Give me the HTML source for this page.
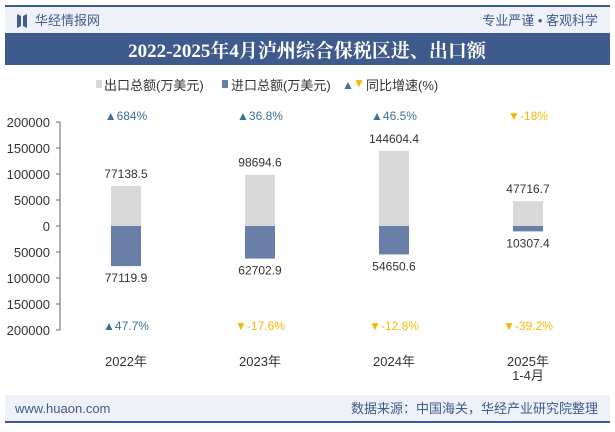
<!DOCTYPE html>
<html><head><meta charset="utf-8"><style>
body{margin:0;width:615px;height:427px;overflow:hidden;background:#fff;font-family:"Liberation Sans","Noto Sans CJK SC",sans-serif;}
</style></head><body>
<svg width="615" height="427" xmlns="http://www.w3.org/2000/svg">
<rect x="5" y="5" width="605" height="28" fill="#eef1f7"/>
<rect x="5" y="5" width="605" height="2" fill="#3f5a8c"/>
<path d="M17 14 L21 16 L21 26 L17 28 Z M23 16 L27 14 L27 28 L23 26 Z" fill="#3f5a8c"/>
<text x="35" y="25" font-size="13" fill="#3f5a8c">华经情报网</text>
<text x="598" y="25" font-size="13" fill="#3f5a8c" text-anchor="end">专业严谨 • 客观科学</text>
<rect x="5" y="33" width="605" height="32" fill="#3f5a8c"/>
<text x="307" y="57" font-size="19" font-weight="bold" fill="#fff" text-anchor="middle" font-family="Liberation Serif,Noto Serif CJK SC,serif">2022-2025年4月泸州综合保税区进、出口额</text>
<g font-size="13" fill="#333">
<rect x="96" y="80" width="6" height="8" fill="#d9d9d9"/>
<text x="104" y="90">出口总额(万美元)</text>
<rect x="222" y="80" width="6" height="8" fill="#6a7fa8"/>
<text x="231" y="90">进口总额(万美元)</text>
<text x="342" y="89" font-size="12" fill="#3d7196">▲</text>
<text x="353" y="87" font-size="12" fill="#f5b800">▼</text>
<text x="366" y="90">同比增速(%)</text>
</g>
<g id="plot"></g>
<rect x="5" y="395" width="605" height="27" fill="#eef1f7"/>
<rect x="5" y="421" width="605" height="2" fill="#3f5a8c"/>
<text x="15" y="413" font-size="13" fill="#3f5a8c">www.huaon.com</text>
<text x="598" y="413" font-size="13" fill="#3f5a8c" text-anchor="end">数据来源：中国海关，华经产业研究院整理</text>
</svg>
<script>
const categories=["2022年","2023年","2024年","2025年|1-4月"];
const exportVals=[77138.5,98694.6,144604.4,47716.7];
const importVals=[77119.9,62702.9,54650.6,10307.4];
const exportGrowth=[684,36.8,46.5,-18];
const importGrowth=[47.7,-17.6,-12.8,-39.2];
const yTicks=[200000,150000,100000,50000,0,50000,100000,150000,200000];
const ns="http://www.w3.org/2000/svg";
const g=document.getElementById("plot");
const y0=226,scale=208/400000;
const yPos=v=>y0-v*scale;
const xPos=i=>126+i*134;
function el(t,a,txt){const e=document.createElementNS(ns,t);for(const k in a)e.setAttribute(k,a[k]);if(txt!==undefined)e.textContent=txt;g.appendChild(e);return e;}
let ax=el("line",{x1:60,x2:60,y1:yPos(200000),y2:yPos(-200000),stroke:"#666"});


yTicks.forEach((t,i)=>{const v=200000-i*50000;const y=yPos(v);
let tk=el("line",{x1:56,x2:60,y1:y,y2:y,stroke:"#666"});


let tl=el("text",{x:50,y:y+5,"font-size":13,fill:"#333","text-anchor":"end"},String(t));

});
function fmt(v){return (v>0?"▲":"▼")+v+"%";}
categories.forEach((c,i)=>{const x=xPos(i);
let b=el("rect",{x:x-15,y:yPos(exportVals[i]),width:30,height:exportVals[i]*scale,fill:"#d9d9d9"});


let b2=el("rect",{x:x-15,y:y0,width:30,height:importVals[i]*scale,fill:"#6a7fa8"});


let l1=el("text",{x:x,y:yPos(exportVals[i])-8,"font-size":12,fill:"#333","text-anchor":"middle"},exportVals[i].toFixed(1));


let l2=el("text",{x:x,y:y0+importVals[i]*scale+16,"font-size":12,fill:"#333","text-anchor":"middle"},importVals[i].toFixed(1));


[[exportGrowth[i],120],[importGrowth[i],330]].forEach(([v,y])=>{
let gt=el("text",{x:x,y:y,"font-size":12,fill:v>0?"#3d7196":"#f5b800","text-anchor":"middle"},fmt(v));

});
c.split("|").forEach((p,j)=>{let ct=el("text",{x:x,y:366+j*14,"font-size":13,fill:"#333","text-anchor":"middle"},p);

});
});
</script>
</body></html>
